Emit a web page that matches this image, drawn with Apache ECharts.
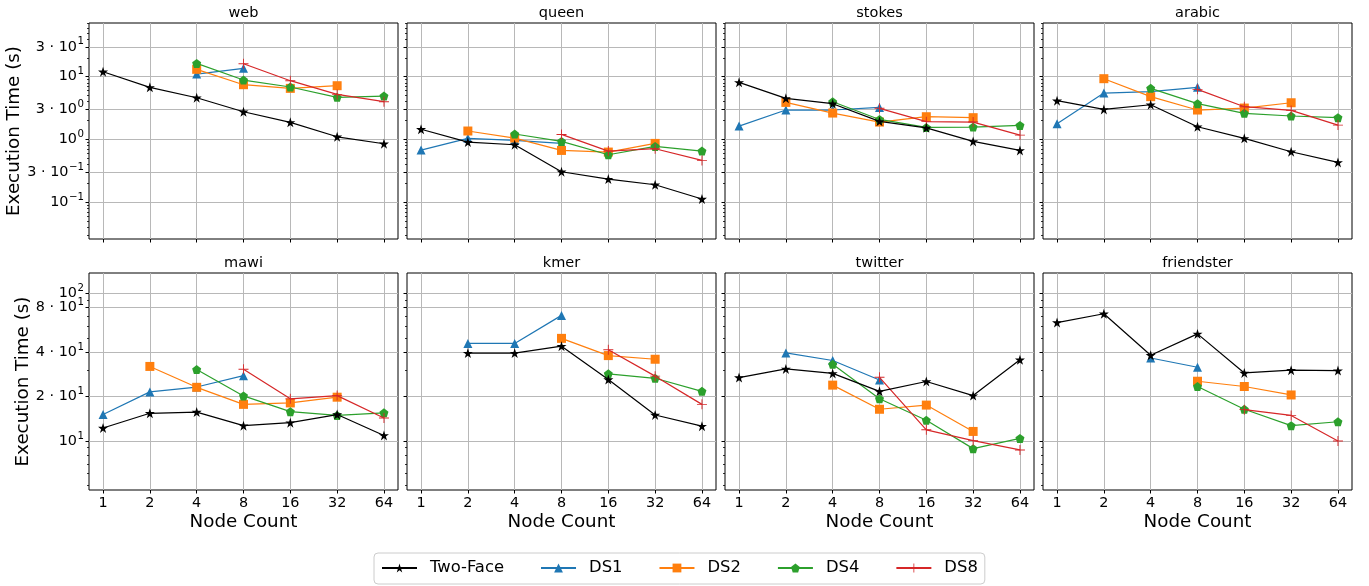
<!DOCTYPE html>
<html><head><meta charset="utf-8">
<script src="https://cdn.jsdelivr.net/npm/echarts@6/dist/echarts.min.js"></script>
<style>html,body{margin:0;padding:0;background:#fff}#c{width:1369px;height:586px}</style>
</head><body><div id="c"></div>
<script>
// ---- data ----
const nodeCounts = [1, 2, 4, 8, 16, 32, 64];
const panels = ['web', 'queen', 'stokes', 'arabic', 'mawi', 'kmer', 'twitter', 'friendster'];
const seriesNames = ['Two-Face', 'DS1', 'DS2', 'DS4', 'DS8'];

// execution time (s) per panel (rows follow `panels`), columns follow `nodeCounts`
const twoFace = [
  [12.0, 6.76, 4.62, 2.76, 1.87, 1.10, 0.853],
  [1.45, 0.906, 0.822, 0.305, 0.233, 0.189, 0.112],
  [8.13, 4.51, 3.71, 1.94, 1.53, 0.929, 0.667],
  [4.14, 3.01, 3.57, 1.59, 1.04, 0.636, 0.430],
  [12.25, 15.4, 15.7, 12.7, 13.3, 15.1, 10.9],
  [null, 39.4, 39.4, 43.9, 26.1, 15.0, 12.6],
  [26.9, 30.8, 28.7, 21.7, 25.3, 20.3, 35.5],
  [63.5, 72.8, 38.1, 53.2, 28.9, 30.2, 30.0]
];
const ds1 = [
  [null, null, 11.0, 13.6, null, null, null],
  [0.676, 1.04, 0.964, 0.863, null, null, null],
  [1.63, 2.94, 2.94, 3.24, null, null, null],
  [1.78, 5.48, 5.77, 6.76, null, null, null],
  [15.1, 21.5, 23.2, 27.7, null, null, null],
  [null, 45.8, 45.8, 71.0, null, null, null],
  [null, 39.5, 35.1, 25.9, null, null, null],
  [null, null, 36.5, 31.6, null, null, null]
];
const ds2 = [
  [null, null, 13.1, 7.45, 6.51, 7.18, null],
  [null, 1.36, 1.05, 0.667, 0.628, 0.863, null],
  [null, 3.89, 2.63, 1.89, 2.30, 2.22, null],
  [null, 9.29, 4.80, 2.94, 3.16, 3.84, null],
  [null, 32.0, 23.1, 17.7, 18.1, 19.8, null],
  [null, null, null, 49.6, 37.9, 35.8, null],
  [null, null, 23.9, 16.4, 17.5, 11.6, null],
  [null, null, null, 25.4, 23.4, 20.5, null]
];
const ds4 = [
  [null, null, 16.3, 8.84, 6.84, 4.68, 4.91],
  [null, null, 1.22, 0.929, 0.569, 0.773, 0.651],
  [null, null, 3.99, 2.08, 1.55, 1.57, 1.67],
  [null, null, 6.52, 3.71, 2.60, 2.36, 2.22],
  [null, null, 30.5, 20.2, 15.8, 14.9, 15.5],
  [null, null, null, null, 28.5, 26.6, 21.7],
  [null, null, 33.1, 19.3, 13.8, 8.87, 10.4],
  [null, null, null, 23.4, 16.4, 12.7, 13.5]
];
const ds8 = [
  [null, null, null, 16.1, 8.63, 5.22, 3.99],
  [null, null, null, 1.20, 0.651, 0.710, 0.462],
  [null, null, null, 3.13, 1.92, 1.89, 1.17],
  [null, null, null, 6.28, 3.32, 2.90, 1.69],
  [null, null, null, 30.6, 19.3, 20.3, 14.3],
  [null, null, null, null, 41.5, 27.5, 17.7],
  [null, null, null, 27.0, 11.9, 10.05, 8.69],
  [null, null, null, null, 16.3, 14.9, 10.0]
];

// tick labels (base^exponent)
const topTicks = [0.1, 0.3, 1, 3, 10, 30];
const topTickLabels = ['10^−1', '3 · 10^−1', '10^0', '3 · 10^0', '10^1', '3 · 10^1'];
const bottomTicks = [10, 20, 40, 80, 100];
const bottomTickLabels = ['10^1', '2 · 10^1', '4 · 10^1', '8 · 10^1', '10^2'];

// ---- layout / style ----
const FONT = 'DejaVu Sans';
const colors = {'Two-Face': '#000000', 'DS1': '#1f77b4', 'DS2': '#ff7f0e', 'DS4': '#2ca02c', 'DS8': '#d62728'};
const symbols = {
  'Two-Face': 'path://M50 0 L61.2 34.5 L97.6 34.5 L68.2 55.9 L79.4 90.5 L50 69.1 L20.6 90.5 L31.8 55.9 L2.4 34.5 L38.8 34.5 Z',
  'DS1': 'triangle',
  'DS2': 'rect',
  'DS4': 'path://M50 0 L97.6 34.5 L79.4 90.5 L20.6 90.5 L2.4 34.5 Z',
  'DS8': 'path://M45.5 0 H54.5 V45.5 H100 V54.5 H54.5 V100 H45.5 V54.5 H0 V45.5 H45.5 Z'
};
const symbolSizes = {'Two-Face': 10, 'DS1': 9, 'DS2': 9, 'DS4': 9, 'DS8': 10};
const seriesTable = {'Two-Face': twoFace, 'DS1': ds1, 'DS2': ds2, 'DS4': ds4, 'DS8': ds8};

const lefts = [89, 407, 725, 1043];
const W = 309;
const tops = [23, 273];
const heights = [216, 217];
const yRange = [[0.0258, 71.8], [4.65, 137.6]];

function minorList(lo, hi, majors) {
  const out = [];
  for (let k = -3; k <= 3; k++) {
    for (let m = 2; m <= 9; m++) {
      const v = Number((m * Math.pow(10, k)).toPrecision(3));
      if (v > lo && v < hi && !majors.some(t => Math.abs(t - v) / v < 1e-6)) out.push(v);
    }
  }
  return out;
}
function richLabel(s) {
  const [b, e] = s.split('^');
  return '{b|' + b + '}{s|' + e + '}';
}
const richStyles = {
  b: {fontSize: 14.4, fontFamily: FONT, color: '#000', lineHeight: 20, verticalAlign: 'middle'},
  s: {fontSize: 10.2, fontFamily: FONT, color: '#000', lineHeight: 10, verticalAlign: 'top', padding: [0, 0, 0, 0.5]}
};
function yLabel(show, values, ticks, labels) {
  return {
    show: show && values.length > 0, customValues: values, color: '#000', margin: 5,
    showMinLabel: true, showMaxLabel: true, hideOverlap: false,
    formatter: v => { const k = ticks.findIndex(t => Math.abs(t - v) / t < 1e-6); return k >= 0 ? richLabel(labels[k]) : ''; },
    rich: richStyles
  };
}

const grids = [], xAxes = [], yAxes = [], titles = [], series = [];
const tickLine = {color: '#000', width: 1};
const gridLine = {color: '#b8b8b8', width: 1};

panels.forEach((p, i) => {
  const row = i < 4 ? 0 : 1, col = i % 4;
  grids.push({left: lefts[col], top: tops[row], width: W, height: heights[row],
    show: true, borderColor: '#000', borderWidth: 1, containLabel: false});
  titles.push({text: p, left: lefts[col] + W / 2, top: tops[row] - 17, textAlign: 'center', padding: 0,
    textStyle: {fontSize: 14.5, fontWeight: 'normal', fontFamily: FONT, color: '#000'}});

  xAxes.push({
    type: 'log', logBase: 2, gridIndex: i, min: Math.pow(2, -0.3), max: Math.pow(2, 6.3),
    axisLine: {show: false},
    axisTick: {show: true, length: 3.5, customValues: nodeCounts, lineStyle: tickLine},
    axisLabel: {show: row === 1, customValues: nodeCounts, formatter: v => String(Math.round(v)),
      fontSize: 14.4, fontFamily: FONT, color: '#000', margin: 6, showMinLabel: true, showMaxLabel: true},
    splitLine: {show: true, lineStyle: gridLine},
    minorTick: {show: false}, minorSplitLine: {show: false},
    name: row === 1 ? 'Node Count' : '', nameLocation: 'middle', nameGap: 23,
    nameTextStyle: {fontSize: 18.3, fontFamily: FONT, color: '#000'}
  });

  const ticks = row === 0 ? topTicks : bottomTicks;
  const labels = row === 0 ? topTickLabels : bottomTickLabels;
  // labels that sit too close to a neighbour are drawn by the overlay axis so neither gets hidden
  const crowded = ticks.filter((t, k) => k > 0 && Math.log10(ticks[k + 1] || Infinity) - Math.log10(t) < 0.15);
  const mainLabelValues = ticks.filter(t => !crowded.includes(t));
  const [lo, hi] = yRange[row];
  yAxes.push({
    type: 'log', logBase: 10, gridIndex: i, position: 'left', offset: 0, min: lo, max: hi,
    axisLine: {show: false},
    axisTick: {show: true, length: 3.5, customValues: ticks, lineStyle: tickLine},
    axisLabel: yLabel(col === 0, mainLabelValues, ticks, labels),
    splitLine: {show: true, lineStyle: gridLine},
    minorTick: {show: false}, minorSplitLine: {show: false},
    name: col === 0 ? 'Execution Time (s)' : '', nameLocation: 'middle', nameGap: 57, nameRotate: 90,
    nameTextStyle: {fontSize: 18.3, fontFamily: FONT, color: '#000'}
  });
  const minors = minorList(lo, hi, ticks);
  yAxes.push({
    type: 'log', logBase: 10, gridIndex: i, position: 'left', offset: 0, min: lo, max: hi,
    axisLine: {show: false},
    axisTick: {show: true, length: 2, customValues: minors, lineStyle: {color: '#000', width: 0.8}},
    axisLabel: yLabel(col === 0, crowded, ticks, labels),
    splitLine: {show: false}, minorTick: {show: false}
  });

  ['DS1', 'DS2', 'DS4', 'DS8', 'Two-Face'].forEach((name, order) => {
    const vals = seriesTable[name][i];
    const data = nodeCounts.map((n, j) => [n, vals[j]]).filter(d => d[1] !== null);
    series.push({
      type: 'line', name, xAxisIndex: i, yAxisIndex: 2 * i, data,
      symbol: symbols[name], symbolSize: symbolSizes[name], showSymbol: true,
      lineStyle: {color: colors[name], width: 1.2},
      itemStyle: {color: colors[name]},
      emphasis: {disabled: true}, z: 3 + order, silent: true
    });
  });
});

const chart = echarts.init(document.getElementById('c'), null, {renderer: 'canvas'});
chart.setOption({
  animation: false,
  backgroundColor: '#fff',
  textStyle: {fontFamily: FONT},
  title: titles,
  grid: grids,
  xAxis: xAxes,
  yAxis: yAxes,
  legend: {
    data: seriesNames, left: 374, top: 553, orient: 'horizontal',
    padding: [7, 7, 8, 7], itemWidth: 35, itemHeight: 11, itemGap: 36,
    borderColor: '#cccccc', borderWidth: 1, borderRadius: 4, backgroundColor: '#fff',
    textStyle: {fontSize: 16.4, fontFamily: FONT, color: '#000', padding: [0, 0, 0, 8]},
    selectedMode: false
  },
  series
});
</script></body></html>
